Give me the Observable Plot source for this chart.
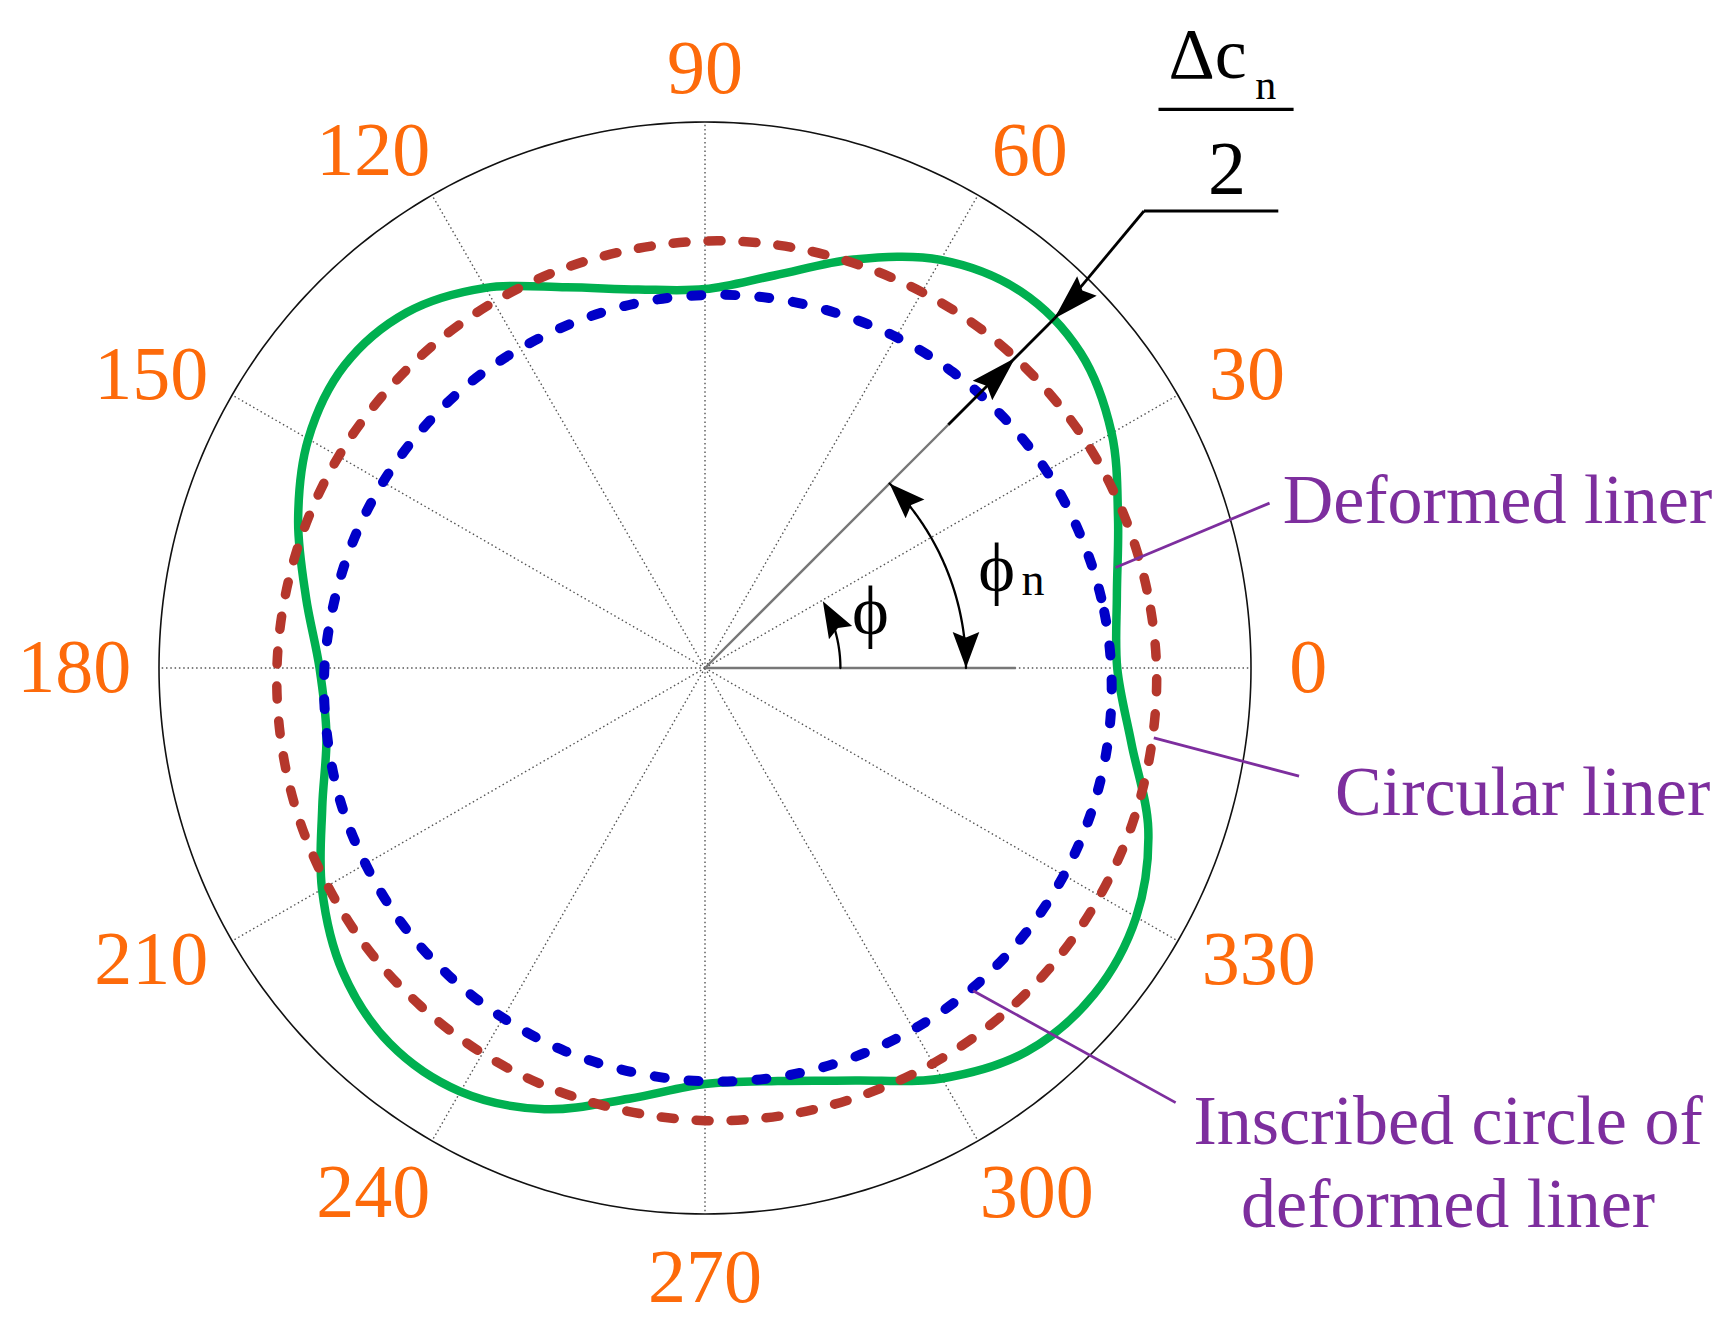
<!DOCTYPE html>
<html>
<head>
<meta charset="utf-8">
<script src="https://cdn.jsdelivr.net/npm/d3@7"></script>
<script src="https://cdn.jsdelivr.net/npm/@observablehq/plot@0.6"></script>
<style>
  html, body { margin: 0; padding: 0; background: #ffffff; }
  #chart svg { display: block; }
</style>
</head>
<body>
<div id="chart"></div>
<script>
// ---------- data (angle in degrees, radius normalised to the outer ring = 1) ----------
const angles = [0, 10, 20, 30, 40, 50, 60, 70, 80, 90, 100, 110, 120, 130, 140, 150, 160, 170,
                180, 190, 200, 210, 220, 230, 240, 250, 260, 270, 280, 290, 300, 310, 320, 330, 340, 350];

const deformedLiner = [0.755, 0.766, 0.805, 0.860, 0.898, 0.900, 0.863, 0.796, 0.730, 0.694, 0.704, 0.742,
                       0.804, 0.850, 0.862, 0.839, 0.793, 0.742, 0.706, 0.704, 0.746, 0.810, 0.866, 0.898,
                       0.896, 0.860, 0.801, 0.762, 0.768, 0.804, 0.868, 0.917, 0.930, 0.912, 0.864, 0.793];

const circularLiner = [0.827, 0.822, 0.817, 0.812, 0.806, 0.801, 0.795, 0.790, 0.786, 0.782, 0.778, 0.776,
                       0.774, 0.773, 0.773, 0.775, 0.777, 0.780, 0.784, 0.788, 0.793, 0.798, 0.804, 0.809,
                       0.815, 0.820, 0.824, 0.829, 0.832, 0.834, 0.836, 0.837, 0.837, 0.835, 0.833, 0.830];

const inscribedCircle = [0.744, 0.737, 0.729, 0.722, 0.714, 0.707, 0.700, 0.693, 0.688, 0.683, 0.680, 0.677,
                         0.676, 0.677, 0.678, 0.681, 0.685, 0.690, 0.697, 0.703, 0.711, 0.718, 0.726, 0.733,
                         0.740, 0.747, 0.752, 0.757, 0.761, 0.763, 0.764, 0.764, 0.762, 0.759, 0.755, 0.750];

const tickAngles = [0, 30, 60, 90, 120, 150, 180, 210, 240, 270, 300, 330];
const tickLabels = ["0", "30", "60", "90", "120", "150", "180", "210", "240", "270", "300", "330"];

const seriesNames = ["Deformed liner", "Circular liner", "Inscribed circle of\ndeformed liner"];

// ---------- helpers ----------
const rad = (d) => d * Math.PI / 180;
const px = (a, r) => r * Math.cos(rad(a));
const py = (a, r) => r * Math.sin(rad(a));
const records = (rs) => angles.map((a, i) => ({a, r: rs[i]}));

const ORANGE = "#fd6a0a";
const PURPLE = "#7d2e9e";
const GREEN = "#00b050";
const RED = "#b5372c";
const BLUE = "#0000c8";
const SERIF = "Liberation Serif, Times New Roman, serif";

// narrow filled arrow heads, tip at the anchor point, pointing "up" before rotation
const arrowHead = {
  draw(context, size) {
    const s = Math.sqrt(size / Math.PI);
    context.moveTo(0, 0);
    context.lineTo(s * 0.3, s);
    context.lineTo(0, s * 0.86);
    context.lineTo(-s * 0.3, s);
    context.closePath();
  }
};
const arcHead = {
  draw(context, size) {
    const s = Math.sqrt(size / Math.PI);
    context.moveTo(0, 0);
    context.lineTo(s * 0.37, s);
    context.lineTo(0, s * 0.85);
    context.lineTo(-s * 0.37, s);
    context.closePath();
  }
};

// annotation geometry (data units)
const dimAngle = 45;
const rGreenAt45 = 0.905, rRedAt45 = 0.803;
const phiNRadius = 0.478, phiRadius = 0.248;
const elbow = {x: 0.804, y: 0.837};
const leaderEndX = 1.050;

const greyLines = [
  {a: 0, r0: 0, r1: 0.569},
  {a: dimAngle, r0: 0, r1: 0.63}
];
const blackLines = [
  {x1: px(dimAngle, 0.63), y1: py(dimAngle, 0.63), x2: px(dimAngle, rGreenAt45), y2: py(dimAngle, rGreenAt45)},
  {x1: px(dimAngle, rGreenAt45), y1: py(dimAngle, rGreenAt45), x2: elbow.x, y2: elbow.y},
  {x1: elbow.x, y1: elbow.y, x2: leaderEndX, y2: elbow.y}
];
const dimHeads = [
  {x: px(dimAngle, rGreenAt45), y: py(dimAngle, rGreenAt45), rot: 90 - (dimAngle + 180)},
  {x: px(dimAngle, rRedAt45), y: py(dimAngle, rRedAt45), rot: 90 - dimAngle}
];
const arcHeads = [
  {x: px(dimAngle, phiNRadius), y: py(dimAngle, phiNRadius), rot: 90 - (dimAngle + 90)},
  {x: px(0, phiNRadius), y: py(0, phiNRadius), rot: 180}
];
const phiHeads = [
  {x: px(29.5, phiRadius), y: py(29.5, phiRadius), rot: 90 - (29.5 + 90)}
];

const leaders = [
  {x1: 0.752, y1: 0.184, x2: 1.034, y2: 0.302},
  {x1: 0.822, y1: -0.128, x2: 1.088, y2: -0.198},
  {x1: 0.491, y1: -0.591, x2: 0.862, y2: -0.796}
];

// angular tick label placement: pushed out according to label length
const labelX = (a, s) => {
  const c = Math.cos(rad(a));
  return c * (1.08 + 0.025 * s.length + 0.12 * (1 - Math.abs(c)));
};
const labelY = (a) => {
  const sn = Math.sin(rad(a));
  if (Math.abs(sn) < 0.1) return 0;
  return sn > 0 ? 1.12 * sn - 0.022 : 1.162 * sn + 0.046;
};
const tickData = tickAngles.map((a, i) => ({a, label: tickLabels[i]}));

const chart = Plot.plot({
  width: 1723,
  height: 1333,
  marginLeft: 158.5,
  marginRight: 472.5,
  marginTop: 121.5,
  marginBottom: 119.5,
  x: {domain: [-1, 1], axis: null},
  y: {domain: [-1, 1], axis: null},
  style: {background: "#ffffff", overflow: "visible", fontFamily: SERIF},
  marks: [
    // polar grid spokes
    Plot.link(tickAngles, {
      x1: () => 0, y1: () => 0,
      x2: (a) => px(a, 1), y2: (a) => py(a, 1),
      stroke: "#555", strokeWidth: 1.4, strokeDasharray: "1.5,2.8"
    }),
    // outer ring
    Plot.line(d3.range(0, 361, 1), {
      x: (a) => px(a, 1), y: (a) => py(a, 1),
      stroke: "#111", strokeWidth: 1.6
    }),
    // grey reference lines of the angle construction
    Plot.link(greyLines, {
      x1: (d) => px(d.a, d.r0), y1: (d) => py(d.a, d.r0),
      x2: (d) => px(d.a, d.r1), y2: (d) => py(d.a, d.r1),
      stroke: "#777", strokeWidth: 2.4
    }),
    // series
    Plot.line(records(deformedLiner), {
      x: (d) => px(d.a, d.r), y: (d) => py(d.a, d.r),
      curve: "catmull-rom-closed", stroke: GREEN, strokeWidth: 8.5
    }),
    Plot.line(records(circularLiner), {
      x: (d) => px(d.a, d.r), y: (d) => py(d.a, d.r),
      curve: "catmull-rom-closed", stroke: RED, strokeWidth: 9.5,
      strokeDasharray: "13,22", strokeLinecap: "round"
    }),
    Plot.line(records(inscribedCircle), {
      x: (d) => px(d.a, d.r), y: (d) => py(d.a, d.r),
      curve: "catmull-rom-closed", stroke: BLUE, strokeWidth: 10,
      strokeDasharray: "10,24", strokeLinecap: "round"
    }),
    // dimension Δc_n / 2
    Plot.link(blackLines, {
      x1: "x1", y1: "y1", x2: "x2", y2: "y2",
      stroke: "#000", strokeWidth: 2.8
    }),
    Plot.dot(dimHeads, {x: "x", y: "y", rotate: "rot", r: 46, symbol: arrowHead, fill: "#000", stroke: "none"}),
    // angle arcs
    Plot.line(d3.range(0, 45.5, 0.5), {
      x: (a) => px(a, phiNRadius), y: (a) => py(a, phiNRadius),
      stroke: "#000", strokeWidth: 2.3
    }),
    Plot.dot(arcHeads, {x: "x", y: "y", rotate: "rot", r: 36, symbol: arcHead, fill: "#000", stroke: "none"}),
    Plot.line(d3.range(0, 20.5, 0.5), {
      x: (a) => px(a, phiRadius), y: (a) => py(a, phiRadius),
      stroke: "#000", strokeWidth: 2.3
    }),
    Plot.dot(phiHeads, {x: "x", y: "y", rotate: "rot", r: 36, symbol: arcHead, fill: "#000", stroke: "none"}),
    // angle tick labels
    Plot.text(tickData, {
      x: (d) => labelX(d.a, d.label),
      y: (d) => labelY(d.a),
      text: "label", fill: ORANGE, fontSize: 76, fontFamily: SERIF,
      textAnchor: "middle", lineAnchor: "middle"
    }),
    // purple leaders + names
    Plot.link(leaders, {x1: "x1", y1: "y1", x2: "x2", y2: "y2", stroke: PURPLE, strokeWidth: 2.8}),
    Plot.text([seriesNames[0]], {x: () => 1.058, y: () => 0.307, text: (d) => d, fill: PURPLE,
      fontSize: 70, fontFamily: SERIF, textAnchor: "start", lineAnchor: "middle"}),
    Plot.text([seriesNames[1]], {x: () => 1.154, y: () => -0.228, text: (d) => d, fill: PURPLE,
      fontSize: 70, fontFamily: SERIF, textAnchor: "start", lineAnchor: "middle"}),
    Plot.text([seriesNames[2]], {x: () => 1.361, y: () => -0.833, text: (d) => d, fill: PURPLE,
      fontSize: 70, fontFamily: SERIF, textAnchor: "middle", lineAnchor: "top", lineHeight: 1.18, dy: -37}),
    // Δc_n / 2 fraction
    Plot.text(["Δc"], {x: () => 0.849, y: () => 1.122, text: (d) => d, fill: "#000",
      fontSize: 72, fontFamily: SERIF, textAnchor: "start", lineAnchor: "middle"}),
    Plot.text(["n"], {x: () => 1.008, y: () => 1.0665, text: (d) => d, fill: "#000",
      fontSize: 42, fontFamily: SERIF, textAnchor: "start", lineAnchor: "middle"}),
    Plot.link([0], {x1: () => 0.8306, x2: () => 1.078, y1: () => 1.0231, y2: () => 1.0231,
      stroke: "#000", strokeWidth: 3.2}),
    Plot.text(["2"], {x: () => 0.956, y: () => 0.9136, text: (d) => d, fill: "#000",
      fontSize: 76, fontFamily: SERIF, textAnchor: "middle", lineAnchor: "middle"}),
    // φ and φn
    Plot.text(["ϕ"], {x: () => 0.303, y: () => 0.1035, text: (d) => d, fill: "#000",
      fontSize: 70, fontFamily: SERIF, textAnchor: "middle", lineAnchor: "middle"}),
    Plot.text(["ϕ"], {x: () => 0.534, y: () => 0.182, text: (d) => d, fill: "#000",
      fontSize: 70, fontFamily: SERIF, textAnchor: "middle", lineAnchor: "middle"}),
    Plot.text(["n"], {x: () => 0.5795, y: () => 0.160, text: (d) => d, fill: "#000",
      fontSize: 46, fontFamily: SERIF, textAnchor: "start", lineAnchor: "middle"})
  ]
});

document.getElementById("chart").appendChild(chart);
</script>
</body>
</html>
